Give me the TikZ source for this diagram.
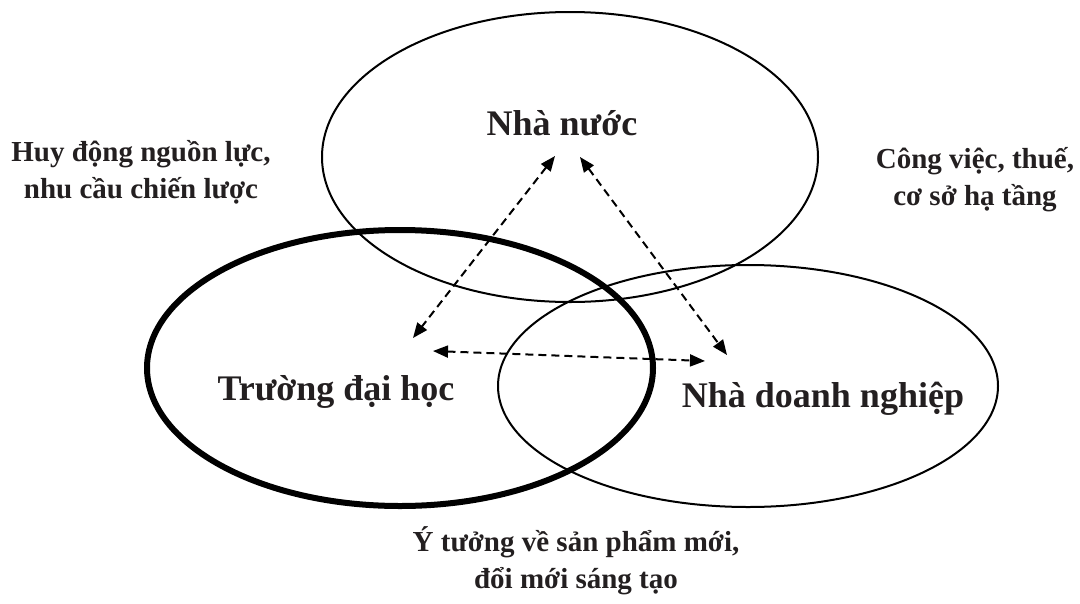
\documentclass[tikz,border=0pt]{standalone}
\usepackage{fontspec}
\setmainfont{Liberation Serif}
\usetikzlibrary{arrows.meta,shapes.geometric}
\definecolor{ink}{RGB}{35,31,32}

\begin{document}
\begin{tikzpicture}[
    x=1pt, y=-1pt,
    ring/.style={draw, ellipse, inner sep=0pt, line width=2pt},
    big/.style={font=\fontsize{36}{40}\selectfont\bfseries, text=ink, anchor=base},
    side/.style={font=\fontsize{29}{37}\selectfont\bfseries, text=ink, align=center, anchor=base},
    link/.style={{Triangle[length=15pt,width=12pt]}-{Triangle[length=15pt,width=12pt]}, dash pattern=on 8pt off 5pt, line width=2pt}
]
\useasboundingbox (0,0) rectangle (1080,603);

% the three circles
\node[ring, minimum width=496pt, minimum height=290pt] (state) at (570,157) {};
\node[ring, line width=6pt, minimum width=506pt, minimum height=276pt] (univ) at (400,368) {};
\node[ring, minimum width=500pt, minimum height=242pt] (firm) at (748,386) {};

\node[big] (stateLbl) at (562,135) {Nhà nước};
\node[big] (univLbl) at (336,400) {Trường đại học};
\node[big] (firmLbl) at (823,407) {Nhà doanh nghiệp};

% base of a two-line label is its last line
\node[side] (needs) at (141,198) {Huy động nguồn lực,\\nhu cầu chiến lược};
\node[side] (taxes) at (975,205) {Công việc, thuế,\\cơ sở hạ tầng};
\node[side] (ideas) at (576,588) {Ý tưởng về sản phẩm mới,\\đổi mới sáng tạo};

% arrow ends
\coordinate (s1) at (555,156);
\coordinate (s2) at (580,157);
\coordinate (u1) at (413,338);
\coordinate (u2) at (433,351);
\coordinate (f1) at (727,355);
\coordinate (f2) at (705,361);

\foreach \a/\b in {s1/u1, s2/f1, u2/f2}
  \draw[link] (\a) -- (\b);
\end{tikzpicture}
\end{document}
